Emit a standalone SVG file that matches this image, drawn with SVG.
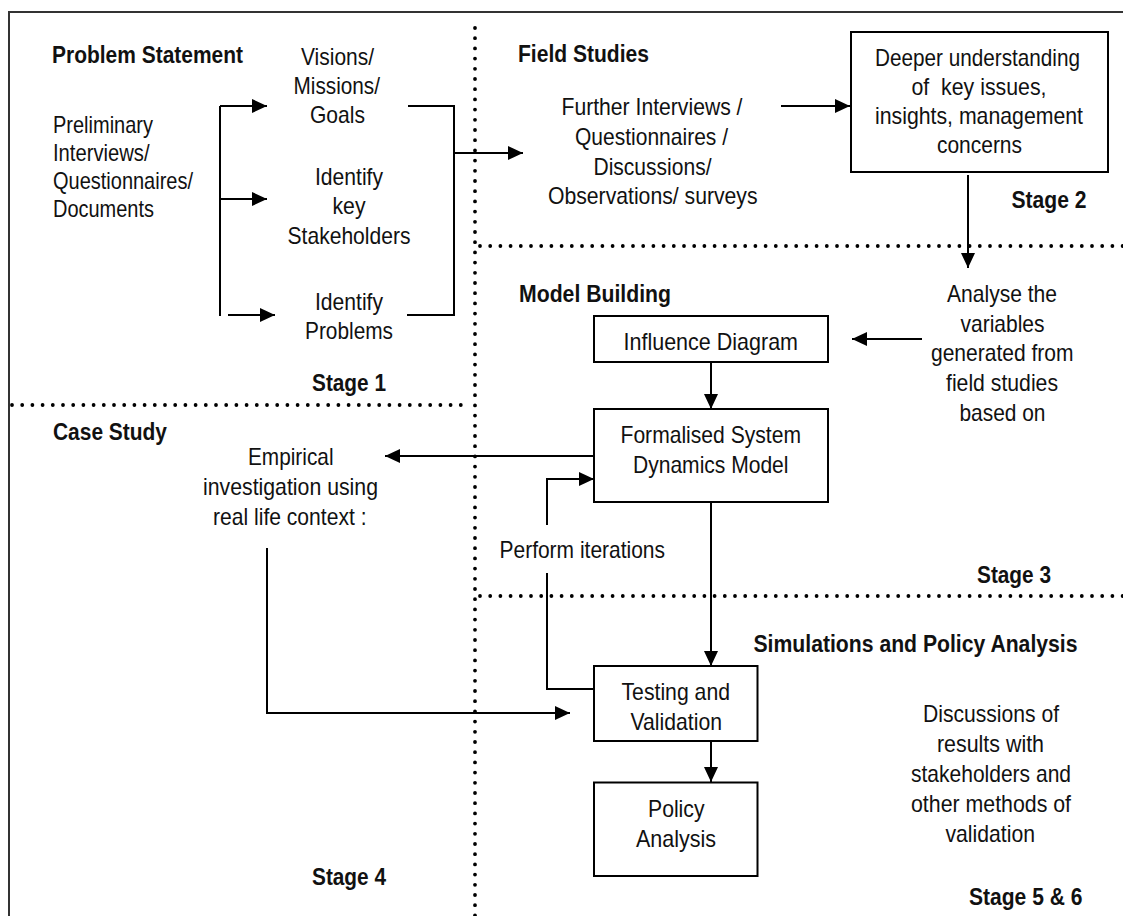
<svg xmlns="http://www.w3.org/2000/svg" width="1123" height="916" viewBox="0 0 1123 916">
<defs>
<style>
.t{font-family:"Liberation Sans",Arial,sans-serif;font-size:24px;fill:#111}
.b{font-weight:bold;font-size:23.5px}
.ln{fill:none;stroke:#000;stroke-width:2}
.box{fill:#fff;stroke:#000;stroke-width:2}
.dot{fill:none;stroke:#000;stroke-width:3.8;stroke-linecap:round;stroke-dasharray:0 10.2}
</style>
<marker id="ah" markerUnits="userSpaceOnUse" markerWidth="15" markerHeight="14" refX="15" refY="7" orient="auto" viewBox="0 0 15 14">
<path d="M0,0 L15,7 L0,14 z" fill="#000"/>
</marker>
</defs>
<rect width="1123" height="916" fill="#fff"/>
<g id="frame">
<path d="M9,916 V12 H1123" fill="none" stroke="#333" stroke-width="2"/>
</g>
<g id="dividers">
<path class="dot" d="M475,28 V916"/>
<path class="dot" d="M480,246 H1123"/>
<path class="dot" d="M12,405 H470"/>
<path class="dot" d="M480,596 H1123"/>
</g>
<g id="connectors">
<path class="ln" d="M220,106 V316"/>
<path class="ln" d="M220,106 H267" marker-end="url(#ah)"/>
<path class="ln" d="M220,199 H267" marker-end="url(#ah)"/>
<path class="ln" d="M228,315 H275" marker-end="url(#ah)"/>
<path class="ln" d="M408,106 H454 V315 H407"/>
<path class="ln" d="M454,153 H523" marker-end="url(#ah)"/>
<path class="ln" d="M781,106 H850" marker-end="url(#ah)"/>
<path class="ln" d="M968,175 V268" marker-end="url(#ah)"/>
<path class="ln" d="M922,339 H852" marker-end="url(#ah)"/>
<path class="ln" d="M711,362 V409" marker-end="url(#ah)"/>
<path class="ln" d="M594,456 H385" marker-end="url(#ah)"/>
<path class="ln" d="M547,525 V479 H594" marker-end="url(#ah)"/>
<path class="ln" d="M547,573 V689 H594"/>
<path class="ln" d="M711,502 V666" marker-end="url(#ah)"/>
<path class="ln" d="M267,548 V713 H570" marker-end="url(#ah)"/>
<path class="ln" d="M711,736 V782" marker-end="url(#ah)"/>
</g>
<g id="problem-statement">
<text class="t b" x="52" y="63" textLength="191" lengthAdjust="spacingAndGlyphs">Problem Statement</text>
</g>
<g id="preliminary">
<text class="t" x="53" y="133" textLength="100" lengthAdjust="spacingAndGlyphs">Preliminary</text>
<text class="t" x="53" y="161" textLength="96.5" lengthAdjust="spacingAndGlyphs">Interviews/</text>
<text class="t" x="53" y="189" textLength="140" lengthAdjust="spacingAndGlyphs">Questionnaires/</text>
<text class="t" x="53" y="217" textLength="101" lengthAdjust="spacingAndGlyphs">Documents</text>
</g>
<g id="visions">
<text class="t" x="301" y="65" textLength="73" lengthAdjust="spacingAndGlyphs">Visions/</text>
<text class="t" x="293.5" y="94" textLength="86.5" lengthAdjust="spacingAndGlyphs">Missions/</text>
<text class="t" x="310" y="123" textLength="55" lengthAdjust="spacingAndGlyphs">Goals</text>
</g>
<g id="stakeholders">
<text class="t" x="315" y="185" textLength="68" lengthAdjust="spacingAndGlyphs">Identify</text>
<text class="t" x="332.5" y="214" textLength="33" lengthAdjust="spacingAndGlyphs">key</text>
<text class="t" x="287.5" y="244" textLength="123" lengthAdjust="spacingAndGlyphs">Stakeholders</text>
</g>
<g id="problems">
<text class="t" x="315" y="310" textLength="68" lengthAdjust="spacingAndGlyphs">Identify</text>
<text class="t" x="305" y="339" textLength="88" lengthAdjust="spacingAndGlyphs">Problems</text>
</g>
<g id="stage1">
<text class="t b" x="312" y="391" textLength="74" lengthAdjust="spacingAndGlyphs">Stage 1</text>
</g>
<g id="field-studies">
<text class="t b" x="518" y="62" textLength="131" lengthAdjust="spacingAndGlyphs">Field Studies</text>
</g>
<g id="further-interviews">
<text class="t" x="561.5" y="115" textLength="181" lengthAdjust="spacingAndGlyphs">Further Interviews /</text>
<text class="t" x="575" y="145" textLength="153" lengthAdjust="spacingAndGlyphs">Questionnaires /</text>
<text class="t" x="593.5" y="175" textLength="118" lengthAdjust="spacingAndGlyphs">Discussions/</text>
<text class="t" x="548" y="204" textLength="209.5" lengthAdjust="spacingAndGlyphs">Observations/ surveys</text>
</g>
<g id="deeper-understanding">
<rect class="box" x="851" y="32" width="257" height="140"/>
<text class="t" x="875" y="66" textLength="205" lengthAdjust="spacingAndGlyphs">Deeper understanding</text>
<text class="t" x="911.5" y="95" textLength="135" lengthAdjust="spacingAndGlyphs" xml:space="preserve">of  key issues,</text>
<text class="t" x="875" y="124" textLength="208" lengthAdjust="spacingAndGlyphs">insights, management</text>
<text class="t" x="937" y="153" textLength="85" lengthAdjust="spacingAndGlyphs">concerns</text>
</g>
<g id="stage2">
<text class="t b" x="1011.5" y="208" textLength="75" lengthAdjust="spacingAndGlyphs">Stage 2</text>
</g>
<g id="model-building">
<text class="t b" x="519" y="302" textLength="152" lengthAdjust="spacingAndGlyphs">Model Building</text>
</g>
<g id="analyse">
<text class="t" x="947" y="302" textLength="110" lengthAdjust="spacingAndGlyphs">Analyse the</text>
<text class="t" x="960.5" y="332" textLength="84" lengthAdjust="spacingAndGlyphs">variables</text>
<text class="t" x="931" y="361" textLength="142.5" lengthAdjust="spacingAndGlyphs">generated from</text>
<text class="t" x="946" y="391" textLength="112" lengthAdjust="spacingAndGlyphs">field studies</text>
<text class="t" x="959.5" y="421" textLength="86" lengthAdjust="spacingAndGlyphs">based on</text>
</g>
<g id="influence-diagram">
<rect class="box" x="594" y="316" width="234" height="46"/>
<text class="t" x="623.5" y="349.5" textLength="174.5" lengthAdjust="spacingAndGlyphs">Influence Diagram</text>
</g>
<g id="formalised-model">
<rect class="box" x="594" y="409" width="234" height="93"/>
<text class="t" x="620.5" y="443" textLength="180.5" lengthAdjust="spacingAndGlyphs">Formalised System</text>
<text class="t" x="633" y="473" textLength="155.5" lengthAdjust="spacingAndGlyphs">Dynamics Model</text>
</g>
<g id="perform-iterations">
<text class="t" x="499.5" y="558" textLength="165.5" lengthAdjust="spacingAndGlyphs">Perform iterations</text>
</g>
<g id="stage3">
<text class="t b" x="977" y="583" textLength="74" lengthAdjust="spacingAndGlyphs">Stage 3</text>
</g>
<g id="case-study">
<text class="t b" x="53" y="439.5" textLength="114" lengthAdjust="spacingAndGlyphs">Case Study</text>
</g>
<g id="empirical">
<text class="t" x="248" y="465" textLength="85.5" lengthAdjust="spacingAndGlyphs">Empirical</text>
<text class="t" x="203" y="495" textLength="175" lengthAdjust="spacingAndGlyphs">investigation using</text>
<text class="t" x="213" y="525" textLength="153.5" lengthAdjust="spacingAndGlyphs">real life context :</text>
</g>
<g id="stage4">
<text class="t b" x="312" y="885" textLength="74" lengthAdjust="spacingAndGlyphs">Stage 4</text>
</g>
<g id="simulations">
<text class="t b" x="753.5" y="652" textLength="324" lengthAdjust="spacingAndGlyphs">Simulations and Policy Analysis</text>
</g>
<g id="testing-validation">
<rect class="box" x="594" y="666" width="163.5" height="75"/>
<text class="t" x="621.5" y="700" textLength="108.5" lengthAdjust="spacingAndGlyphs">Testing and</text>
<text class="t" x="630.5" y="730" textLength="91.5" lengthAdjust="spacingAndGlyphs">Validation</text>
</g>
<g id="policy-analysis">
<rect class="box" x="594" y="782.5" width="163.5" height="93.5"/>
<text class="t" x="648" y="816.5" textLength="56.5" lengthAdjust="spacingAndGlyphs">Policy</text>
<text class="t" x="636" y="846.5" textLength="80" lengthAdjust="spacingAndGlyphs">Analysis</text>
</g>
<g id="discussions">
<text class="t" x="923" y="721.5" textLength="136" lengthAdjust="spacingAndGlyphs">Discussions of</text>
<text class="t" x="937" y="751.5" textLength="107" lengthAdjust="spacingAndGlyphs">results with</text>
<text class="t" x="911" y="782" textLength="160" lengthAdjust="spacingAndGlyphs">stakeholders and</text>
<text class="t" x="911" y="811.5" textLength="160" lengthAdjust="spacingAndGlyphs">other methods of</text>
<text class="t" x="945.5" y="841.5" textLength="89.5" lengthAdjust="spacingAndGlyphs">validation</text>
</g>
<g id="stage5-6">
<text class="t b" x="969" y="905" textLength="113.5" lengthAdjust="spacingAndGlyphs">Stage 5 &amp; 6</text>
</g>
</svg>
